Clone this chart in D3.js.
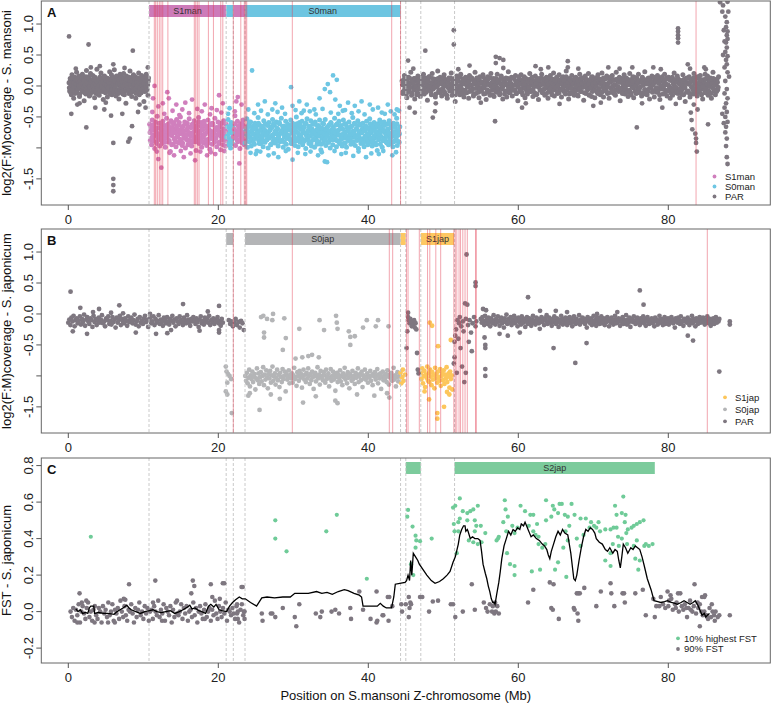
<!DOCTYPE html>
<html><head><meta charset="utf-8">
<script src="https://cdn.jsdelivr.net/npm/d3@7"></script>
<style>body{margin:0;background:#fff}svg{display:block;font-family:"Liberation Sans",Arial,Helvetica,sans-serif}</style>
</head><body><svg id="c" width="771" height="705"></svg>
<script>
// ---------------- DATA ----------------
const xTicks=[0,20,40,60,80];
const covTicks=[-1.5,-1.0,-0.5,0,0.5,1.0];
const covTickLabels=["-1.5","","-0.5","0.0","0.5","1.0"];
const fstTicks=[-0.2,0,0.2,0.4,0.6,0.8];
const fstTickLabels=["-0.2","0.0","0.2","0.4","0.6","0.8"];

// stratum boundaries (Mb)
const boundaries=[10.76,21.05,22.0,23.56,44.3,45.0,47.0,51.5];
const redLinesA=[11.47,11.65,11.87,12.13,12.36,12.59,13.28,16.8,16.99,17.2,17.43,18.68,19.35,20.33,20.6,22.0,23.0,23.47,23.65,23.79,29.87,43.12,44.3,83.7];
const redLinesB=[22.0,29.87,42.8,43.25,45.1,45.3,46.8,47.9,48.2,49.0,49.65,51.4,51.6,51.8,52.1,52.3,52.6,52.9,53.2,54.3,54.4,85.2];

const barsA=[[10.76,21.05,"S1man",1],[21.05,22.0,"S0man",0],[22.0,23.56,"S1man",0],[23.56,44.3,"S0man",1]];
const barsB=[[21.05,22.0,"S0jap",0],[23.56,44.3,"S0jap",1],[44.3,45.0,"S1jap",0],[47.0,51.45,"S1jap",1]];
const barsC=[[45.0,47.0,"S2jap",0],[51.5,78.2,"S2jap",1]];
const s1manRegions=[[10.76,21.05],[22.0,23.56]];

// Panel A: log2(F:M) coverage, S. mansoni (values in 1/100 log2 units, evenly spaced windows)
const aParLeftRange=[0.1,10.7];
const aParLeftY=[5,-8,12,2,-14,18,-3,9,-20,6,14,-6,1,22,-11,4,-2,16,-17,8,
11,-5,0,19,-9,3,-24,13,7,-13,25,-1,10,-7,15,-16,2,20,-4,6,
-10,17,-2,8,-19,12,4,-12,27,-6,9,1,-15,14,-3,21,-8,5,11,-22,
3,16,-9,7,-1,13,-18,10,2,-5,23,-11,6,18,-14,0,12,-7,26,-3,
9,-16,4,15,-6,11,-21,1,19,-10,7,14,-2,-13,20,5,-8,10,-28,16,
-4,8,13,-12,2,24,-7,11,-17,6,3,18,-9,-1,15,-20,9,4,-6,12,
21,-14,7,0,-11,17,5,-3,10,-25,14,2,-8,19,-5,8,-15,13];
const aParLeftRange2=[0.14,10.66];
const aParLeftY2=[-3,7,-10,12,1,-6,14,-1,5,-12,9,3,-8,11,-4,6,0,-13,8,2,
13,-7,4,-2,10,-11,1,15,-5,7,-9,3,12,-1,-14,6,9,-3,0,11,
-6,4,14,-10,2,8,-4,-12,10,1,-7,13,5,-2,-9,7,15,-5,3,-11,
9,0,-8,12,-3,6,-13,4,11,-1,-6,14,2,-10,8,-4,1,16,-7,5,
-12,10,3,-5,13,-2,7,-9,0,12,-14,4,9,-6,1,11,-3,-8,14,6,
2,-10,8,-1,15,-7,3,10,-4,-12,6,0,13,-8,5,-3,11,-11,7,1,
-5,12,4,-9,9,-2,14,-6,2,8];
const aMidRange=[10.85,44.2];
const aMidY=[-62,-88,-71,-95,-55,-79,-83,-66,-101,-58,-74,-90,-49,-77,-85,-68,-97,-60,-81,-72,
-93,-57,-76,-86,-64,-99,-70,-52,-84,-78,-61,-91,-73,-106,-56,-80,-67,-94,-75,-59,
-87,-69,-98,-54,-82,-74,-63,-92,-77,-50,-89,-71,-96,-65,-79,-84,-58,-100,-72,-86,
-60,-95,-78,-53,-88,-67,-81,-97,-62,-75,-90,-56,-83,-70,-104,-64,-87,-76,-51,-93,
-73,-85,-59,-99,-68,-80,-92,-57,-77,-89,-65,-96,-74,-55,-86,-71,-102,-61,-82,-79,
-94,-63,-76,-88,-52,-84,-69,-98,-72,-58,-91,-78,-66,-103,-60,-87,-74,-95,-56,-81,
-70,-97,-62,-83,-77,-54,-90,-67,-85,-100,-59,-75,-93,-64,-80,-71,-48,-96,-73,-86,
-57,-89,-79,-68,-101,-61,-84,-74,-92,-55,-78,-95,-66,-87,-70,-53,-99,-76,-63,-90,
-82,-58,-97,-72,-86,-65,-77,-94,-60,-83,-69,-105,-75,-51,-88,-80,-64,-93,-71,-85,
-67,-98,-56,-79,-91,-73,-62,-87,-76,-100,-59,-84,-70,-95,-66,-81,-54,-89,-78,-63,
-92,-74,-58,-86,-69,-97,-80,-61,-90,-75,-52,-88,-72,-99,-65,-83,-77,-57,-94,-68,
-79,-102,-63,-85,-71,-55,-93,-76,-60,-89,-82,-67,-96,-73,-50,-87,-64,-98,-78,-59,
-91,-70,-84,-57,-95,-75,-66,-88,-61,-101,-79,-53,-86,-72,-93,-68,-80,-56,-97,-74,
-62,-87,-77,-99,-58,-83,-71,-94,-65,-81,-90,-55,-76,-103,-69,-85,-60,-92,-73,-88,
-54,-96,-68,-80,-74,-91,-63,-85,-100,-59,-78,-70,-95,-66,-87,-52,-82,-75,-98,-61,
-89,-72,-57,-93,-79,-64,-86,-97,-70,-55,-84,-76,-92,-61,-99,-73,-67,-88,-58,-81,
-77,-94,-65,-83,-51,-90,-74,-62,-96,-80,-69,-87,-56,-101,-75,-84,-63,-93,-71,-86,
-60,-85,-98,-72,-66,-89,-57,-79,-95,-68,-82,-53,-91,-76,-64,-97,-70,-86,-59,-83,
-92,-67,-78,-104,-61,-87,-73,-55,-94,-81,-65,-99,-71,-88,-58,-84,-76,-90,-62,-80,
-70,-95,-56,-85,-77,-93,-64,-81,-98,-60,-74,-89,-67,-83,-52,-96,-72,-79,-91,-66];
const aMidRange2=[10.9,44.15];
const aMidY2=[-75,-66,-84,-71,-89,-62,-79,-73,-93,-68,-81,-60,-77,-87,-70,-64,-83,-76,-91,-69,
-80,-63,-74,-88,-67,-78,-95,-72,-61,-85,-76,-90,-65,-82,-71,-59,-86,-74,-68,-92,
-73,-84,-62,-79,-70,-88,-66,-75,-94,-81,-67,-77,-63,-86,-72,-90,-69,-80,-58,-83,
-76,-65,-89,-71,-82,-61,-78,-87,-68,-74,-92,-64,-80,-73,-85,-60,-77,-91,-70,-84,
-67,-79,-72,-93,-63,-81,-75,-86,-69,-60,-88,-74,-83,-66,-78,-95,-71,-64,-87,-76,
-82,-70,-61,-84,-77,-90,-65,-73,-89,-68,-80,-62,-86,-75,-92,-71,-79,-67,-83,-58,
-74,-88,-66,-78,-91,-69,-85,-63,-76,-81,-60,-93,-72,-84,-65,-77,-89,-70,-62,-80,
-87,-64,-75,-82,-71,-94,-67,-79,-61,-86,-73,-90,-68,-78,-83,-59,-76,-88,-72,-65,
-78,-91,-69,-74,-85,-62,-80,-66,-87,-71,-93,-64,-77,-82,-70,-89,-61,-75,-84,-68,
-63,-79,-86,-72,-90,-67,-76,-60,-83,-74,-88,-65,-81,-92,-69,-78,-73,-85,-62,-77,
-89,-71,-64,-80,-75,-94,-68,-83,-61,-77,-86,-70,-79,-66,-91,-73,-84,-60,-87,-74,
-70,-82,-76,-63,-88,-72,-79,-90,-65,-84,-69,-78,-93,-62,-75,-81,-67,-86,-71,-80,
-85,-66,-91,-73,-77,-60,-83,-70,-88,-64,-79,-74,-62,-89,-76,-68,-92,-72,-81,-65,
-78,-87,-69,-75,-61,-84,-71,-90,-66,-80,-73,-95,-63,-82,-77,-86,-67,-74,-59,-88,
-72,-64,-85,-79,-92,-70,-76,-62,-87,-68,-81,-74,-90,-65,-78,-83,-61,-89,-73,-77];
const aParRightRange=[44.5,86.7];
const aParRightY=[8,-12,3,17,-6,11,-19,1,14,-9,5,22,-15,7,-3,12,-21,9,0,-11,
16,-4,6,-17,10,2,-8,19,-13,4,13,-2,-23,8,15,-7,1,-14,20,-5,
3,11,-18,7,-1,24,-10,5,14,-6,-16,9,2,18,-12,0,10,-20,6,13,
-8,1,21,-15,7,-3,12,-25,4,16,-9,8,-1,-14,19,3,-6,11,-18,5,
14,-11,0,9,-20,17,2,-7,13,-4,-16,6,22,-12,4,10,-2,-19,15,-8,
7,-3,18,-13,1,11,-22,5,15,-9,3,-15,20,0,-6,12,-17,8,2,-10,
19,-5,9,-14,4,16,-1,-21,10,6,-8,13,-18,2,23,-11,7,-3,14,-16,
1,12,-7,17,-12,5,-24,9,3,-5,18,-10,8,-2,15,-19,4,11,-13,6,
-4,20,-9,2,13,-17,7,-1,16,-14,10,0,-22,6,12,-6,19,-11,3,9,
-15,5,14,-3,-20,8,1,17,-10,11,-7,21,-16,4,-2,13,-12,7,18,-5,
10,-18,3,15,-8,6,-13,24,-1,9,-21,12,2,-11,17,-4,5,-15,8,14,
-6,11,-16,0,19,-9,7,-2,13,-23,4,16,-12,10,-5,20,-14,1,6,-17,
15,-3,8,-19,12,2,-10,18,-7,5,-14,9,21,-1,-18,11,3,-8,16,-12,
4,-20,13,7,-4,17,-11,1,10,-15,22,-6,8,-2,14,-24,6,12,-9,0,
18,-13,5,-7,11,-17,3,20,-10,9,-1,15,-19,7,2,-12,13,-5,19,-8,
-2,9,-16,14,1,-11,23,-6,7,-14,12,4,-21,10,-3,16,-9,5,-18,11,
6,-10,17,-4,13,-22,8,0,15,-13,3,19,-7,11,-16,2,14,-1,-20,9,
12,-15,4,21,-8,6,-3,16,-12,10,-19,7,1,-6,18,-14,9,-25,5,13,
-9,3,15,-18,8,-2,11,-13,20,4,-7,14,-16,0,12,-10,17,-5,6,-21,
10,-4,19,-11,2,16,-15,7,-1,13,-20,5,22,-8,9,-14,3,11,-6,15];
const aParRightRange2=[44.55,86.65];
const aParRightY2=[2,-9,11,-4,6,-13,8,0,-7,13,-2,5,-11,9,3,-6,12,-1,-14,7,
-5,10,1,-12,4,14,-8,6,-3,11,-10,2,8,-6,15,-1,-9,5,12,-4,
9,-2,-13,7,0,12,-7,3,-11,10,5,-4,14,-9,1,8,-15,6,-3,11,
-1,13,-6,4,-10,9,2,-14,7,-5,11,0,-8,15,-3,6,-12,10,3,-7,
12,-11,5,-2,8,-9,14,1,-6,10,-13,3,7,-4,13,-1,-10,9,-5,4,
-8,6,15,-3,1,-12,9,-6,11,2,-9,13,-1,5,-14,8,0,-7,12,-2,
7,-4,10,-11,3,14,-5,-1,9,-13,6,2,-8,12,-3,11,-10,4,0,-6,
13,-7,1,8,-12,5,-2,15,-9,3,-5,10,-14,7,1,-4,12,-8,9,-1,
-3,11,-9,6,14,-6,0,-11,8,4,-13,12,-2,9,-7,2,13,-10,5,-5,
10,-1,-12,7,3,-8,13,-4,6,-14,11,0,-6,9,-2,14,-9,1,-11,8,
-6,4,12,-3,9,-10,2,15,-7,5,-1,-13,10,-4,7,-12,3,11,-8,0,
6,-14,8,1,-5,12,-9,4,13,-2,-11,7,0,10,-6,3,-15,9,-3,14,
-9,2,10,-7,5,-1,14,-12,8,-4,11,3,-10,6,13,-5,1,-8,12,-2,
4,-11,7,-3,15,-8,0,9,-13,2,-6,11,-1,-9,6,12,-4,8,-12,3,
11,-5,-1,13,-10,6,2,-7,10,-14,4,8,-3,14,-9,0,7,-11,5,-4,
-2,9,-12,5,1,11,-6,-13,7,3,-9,13,-4,10,-1,6,-10,2,14,-7,
8,-3,12,-9,4,-14,9,0,-5,11,-1,6,-12,3,13,-8,1,-6,10,-11,
-4,14,-7,2,10,-2,-11,6,12,-9,3,-5,9,-13,7,0,11,-3,4,-10,
12,-8,3,-12,6,9,-1,-6,13,-4,8,-10,1,15,-7,5,-2,10,-14,2,
-1,7,-10,11,-5,3,14,-8,0,9,-12,4,-3,12,-6,1,10,-9,6,-2];
// scattered windows [Mb, log2 ratio]
const aParOut=[[0.1,0.8],[2.7,0.67],[8.6,0.57],[6.0,0.35],[0.4,-0.45],[2.4,-0.67],[6.0,-0.92],[6.0,-1.5],[6.0,-1.6],[6.0,-1.7],[8.0,-0.9],[8.2,-0.85],[8.5,-0.65],[4.8,-0.38],[5.7,-0.48],[3.6,-0.35],[9.3,-0.42],[1.2,-0.3],[7.2,-0.45],[10.3,-0.35],[4.2,0.32],[1.0,0.28],[10.6,0.3],[1.5,-0.28],[3.0,0.3],[5.0,-0.27],[7.5,0.29],[9.5,-0.3],
[51.4,0.9],[51.4,0.67],[47.6,0.57],[45.3,0.41],[57.0,0.47],[57.5,0.45],[57.0,0.37],[58.0,0.42],[66.6,0.4],[66.6,0.3],[75.2,0.3],[81.3,0.93],[81.3,0.88],[81.3,0.82],[81.3,0.77],[81.3,0.7],[48.6,-0.51],[48.9,-0.41],[56.9,-0.57],[75.8,-0.67],[85.3,-0.62],[45.5,-0.35],[46.2,-0.43],[83.0,-0.43],[83.1,-0.55],[83.2,-0.7],[83.6,-0.77],[83.7,-0.85],[83.7,-0.92],[83.8,-1.06],[83.4,-0.3],[83.9,-0.38],[82.6,0.35],[82.9,0.28],[60.5,-0.35],[70,-0.32],[64,0.3],[53.5,0.33],[62.3,0.32],[72,0.3],[78,0.3],[79.2,-0.35],[84.8,0.3],
[46,0.28],[49,-0.28],[52,0.27],[55,-0.27],[58,0.29],[61,-0.28],[63,0.27],[65.5,-0.29],[68,0.28],[71,-0.27],[73.5,0.28],[76.5,-0.28],[79,0.27],[81,-0.29],[85,0.27],
[86.9,1.35],[87.3,1.3],[87.9,1.36],[87.2,1.2],[87.6,1.12],[87.8,1.03],[87.7,0.95],[87.9,0.88],[87.8,0.82],[87.9,0.76],[87.7,0.7],[87.8,0.62],[87.6,0.55],[87.9,0.48],[87.7,0.42],[87.8,0.35],[87.5,0.3],[87.9,0.22],[88.1,0.15],[87.6,0.08],[87.8,-0.05],[87.5,-0.12],[87.9,-0.2],[87.7,-0.28],[87.5,-0.35],[87.8,-0.42],[87.6,-0.5],[87.9,-0.58],[87.7,-0.66],[87.6,-0.75],[87.8,-0.85],[87.7,-0.97],[87.8,-1.15],[87.9,-1.26],[87.4,0.9],[87.3,0.5],[87.2,-0.45],[87.4,-0.6],[88.0,1.2],[87.5,0.72]];
const aMidOut=[[11.5,0.0],[11.3,-0.2],[12.0,-0.33],[12.6,-0.28],[13.2,-0.1],[13.4,-0.2],[14.4,-0.3],[15.6,-0.27],[16.5,-0.22],[17.2,-0.37],[18.2,-0.3],[19.1,-0.36],[20.1,-0.15],[20.6,-0.28],[21.5,-0.36],[22.4,-0.25],[22.6,-0.18],[23.1,-0.3],[24.5,0.25],[25.3,-0.3],[26.2,-0.25],[27.6,-0.28],[28.5,-0.35],[29.7,-0.02],[29.9,-0.32],[30.8,-0.25],[31.8,-0.3],[32.8,-0.38],[33.5,-0.2],[34.2,-0.05],[34.6,0.03],[34.9,-0.1],[35.3,0.17],[35.6,-0.22],[36.2,-0.32],[37.3,-0.27],[38.2,-0.32],[39.1,-0.25],[40.2,-0.3],[41.3,-0.35],[42.6,-0.3],[43.8,-0.38],[35.8,0.1],[36.6,-0.4],[31.4,-0.4],[27.2,-0.38],[24.0,-0.38],[44.1,-0.4],
[11.2,-0.42],[12.8,-0.45],[13.9,-0.4],[14.8,-0.47],[15.2,-0.38],[16.1,-0.44],[17.8,-0.41],[18.9,-0.46],[19.8,-0.39],[20.4,-0.43],[21.3,-0.45],[22.2,-0.41],[24.8,-0.44],[25.7,-0.4],[26.6,-0.46],[27.9,-0.42],[28.9,-0.45],[30.3,-0.39],[31.1,-0.44],[32.2,-0.41],[33.0,-0.46],[33.9,-0.37],[35.0,-0.43],[36.0,-0.45],[36.9,-0.39],[37.8,-0.44],[38.7,-0.41],[39.5,-0.46],[40.6,-0.38],[41.8,-0.43],[42.2,-0.45],[43.0,-0.41],[43.5,-0.46],
[12.0,-1.18],[12.4,-1.32],[14.1,-1.12],[15.4,-1.15],[16.9,-1.2],[18.5,-1.12],[19.6,-1.1],[22.8,-1.25],[25.0,-1.1],[26.7,-1.12],[28.0,-1.15],[29.9,-1.19],[31.6,-1.1],[33.3,-1.12],[34.2,-1.22],[34.5,-1.23],[36.4,-1.1],[38.0,-1.13],[39.7,-1.15],[41.4,-1.1],[43.2,-1.12],
[11.8,-1.06],[13.5,-1.08],[15.0,-1.05],[16.3,-1.09],[17.6,-1.06],[19.0,-1.07],[20.8,-1.05],[24.3,-1.08],[25.6,-1.06],[27.4,-1.09],[29.0,-1.05],[30.6,-1.08],[32.3,-1.06],[33.8,-1.07],[35.5,-1.05],[37.0,-1.08],[38.7,-1.06],[40.4,-1.09],[42.0,-1.05],[43.7,-1.07]];

// Panel B: log2(F:M) coverage, S. japonicum
const bParLeftRange=[0.0,20.6];
const bParLeftY=[-14,-9,-18,-6,-12,-3,-20,-10,-7,-15,-11,-4,-17,-8,-13,-1,-19,-9,-5,-12,
-16,-7,-10,-21,-3,-13,-8,-18,-11,-6,-14,-9,-2,-15,-12,-20,-7,-10,-4,-16,
-11,-17,-5,-13,-9,-22,-6,-14,-10,-3,-18,-8,-12,-15,-7,-11,-19,-4,-13,-9,
-6,-15,-10,-1,-17,-12,-8,-20,-5,-14,-11,-16,-7,-3,-13,-9,-21,-10,-6,-15,
-12,-4,-18,-8,-14,-11,-2,-16,-9,-13,-19,-6,-10,-15,-5,-12,-17,-8,-11,-3,
-14,-9,-20,-7,-12,-16,-4,-10,-13,-18,-6,-11,-15,-2,-9,-14,-19,-8,-12,-5,
-10,-16,-7,-13,-21,-9,-4,-15,-11,-17,-6,-12,-8,-14,-3,-18,-10,-13,-7,-16,
-9,-12,-5,-15,-11,-19,-8,-14];
const bParMidRange=[21.4,23.4];
const bParMidY=[-10,-16,-12,-20,-14,-8,-18,-13,-22,-11,-15,-26];
const bS0Range=[23.6,44.2];
const bS0Y=[-100,-108,-95,-112,-103,-90,-117,-99,-105,-93,-110,-101,-97,-122,-104,-88,-107,-96,-113,-102,
-94,-109,-100,-86,-115,-98,-106,-91,-103,-120,-97,-104,-92,-111,-99,-85,-108,-101,-96,-114,
-103,-90,-107,-98,-118,-95,-102,-110,-89,-105,-100,-93,-125,-97,-106,-101,-91,-112,-98,-104,
-96,-111,-99,-87,-105,-102,-116,-94,-100,-108,-92,-103,-97,-119,-101,-90,-106,-98,-110,-95,
-104,-88,-100,-113,-97,-107,-93,-102,-121,-99,-95,-109,-101,-86,-104,-98,-114,-92,-103,-100,
-107,-94,-99,-111,-90,-105,-101,-96,-117,-103,-89,-108,-100,-93,-106,-98,-124,-102,-95,-110,
-98,-104,-91,-109,-100,-115,-96,-102,-87,-106,-99,-112,-94,-103,-120,-97,-101,-108,-92,-105,
-100,-113,-95,-103,-98,-88,-110,-101,-97,-107,-93,-118,-99,-104,-90,-106,-102,-96,-111,-100,
-103,-92,-108,-99,-115,-97,-101,-94,-106,-100,-89,-112,-98,-104,-96,-121,-102,-93,-107,-99,
-105,-97,-110,-91,-101,-114,-98,-103,-95,-108,-100,-87,-106,-99,-117,-102,-94,-109,-101,-97];
const bS0Out=[[21.0,-0.85],[21.1,-0.93],[21.3,-0.97],[21.0,-1.25],[21.2,-1.11],[21.8,-1.6],[21.5,-1.0],[21.7,-1.05],[21.2,-1.3],
[25.7,-0.05],[26.0,-0.03],[26.5,-0.08],[26.1,-0.3],[26.1,-0.38],[27.2,-0.1],[27.3,0.0],[28.6,-0.58],[28.8,-0.07],[29.0,-0.39],[30.8,-0.24],[33.5,-0.1],[34.1,-0.26],[35.7,-0.03],[35.8,-0.14],[35.9,-0.24],[37.6,-0.5],[37.6,-0.37],[37.4,-0.28],[38.2,-0.36],[39.3,-0.22],[39.8,-0.1],[41.3,-0.1],[41.0,-0.2],[42.7,-0.2],
[25.5,-1.55],[28.2,-1.37],[31.3,-1.43],[35.6,-1.4],[35.9,-1.44],[24.2,-1.28],[24.0,-1.32],[27.0,-1.3],[33.0,-1.33],[38.5,-1.3],[40.8,-1.32],[42.5,-1.28],[30.3,-0.72],[31.2,-0.7],[32.0,-0.68],[32.5,-0.66],[33.4,-0.7],[42.8,-1.35]];
const bS1Range=[47.0,51.2];
const bS1Y=[-95,-105,-88,-112,-100,-92,-118,-98,-103,-85,-108,-96,-110,-90,-101,-115,-94,-106,-99,-120,-87,-104,-97,-111,-93,-102,-108,-89,-116,-100,-95,-107,-91,-113,-98,-104,-86,-110,-101,-96,-119,-93,-105,-99,-122];
const bS1Out=[[44.3,-0.95],[44.5,-1.02],[44.7,-1.08],[44.9,-0.98],[44.4,-1.12],[44.6,-0.9],[48.2,-0.14],[48.5,-0.19],[49.3,-0.52],[51.0,-0.42],[48.1,-1.38],[49.2,-1.6],[49.2,-1.69],[50.1,-1.5],[50.8,-1.3],[50.5,-1.26],[47.5,-1.25]];
const bParRightRange=[55.0,86.8];
const bParRightY=[-8,-14,-5,-11,-18,-3,-12,-9,-16,-6,-13,-20,-7,-10,-15,-2,-11,-17,-8,-13,
-4,-12,-19,-9,-6,-15,-10,-22,-7,-13,-1,-16,-11,-8,-14,-5,-18,-9,-12,-3,
-15,-7,-11,-20,-6,-13,-9,-17,-4,-10,-14,-8,-21,-12,-5,-16,-10,-7,-13,-19,
-9,-3,-14,-11,-17,-6,-12,-8,-15,-24,-10,-5,-13,-9,-18,-7,-11,-2,-16,-12,
-6,-14,-10,-19,-8,-13,-4,-11,-16,-7,-12,-21,-9,-15,-3,-10,-17,-8,-13,-6,
-11,-18,-7,-12,-5,-15,-9,-20,-13,-4,-10,-16,-8,-14,-11,-2,-17,-9,-12,-6,
-13,-8,-16,-10,-22,-5,-12,-9,-15,-7,-18,-11,-3,-14,-10,-19,-6,-13,-8,-16,
-10,-4,-15,-12,-7,-18,-9,-13,-5,-11,-20,-8,-14,-6,-12,-17,-10,-3,-15,-9,
-14,-7,-11,-19,-8,-13,-5,-16,-10,-12,-2,-17,-9,-14,-6,-21,-11,-8,-13,-4,
-12,-16,-9,-6,-14,-11,-18,-7,-13,-10,-4,-15,-8,-19,-12,-5,-11,-16,-9,-13,
-7,-15,-10,-20,-6,-12,-9,-17,-11,-3,-14,-8,-13,-18,-10,-5,-16,-9,-12,-7,
-17,-8,-13,-5,-11,-15,-9,-22,-7,-12,-14,-6,-10,-16,-4,-13,-11,-19,-8,-12,
-9,-14,-6,-11,-18,-10,-13,-3,-15,-8,-12,-20,-7,-11,-16,-9,-5,-14,-10,-13,
-6,-12,-17,-9,-14,-4,-11,-15,-8,-19,-10,-13,-7,-16,-11,-5,-14,-9,-12,-8];
const bParOut=[[0.3,0.36],[1.6,0.1],[4.1,0.08],[6.8,0.14],[15.3,0.16],[20.1,0.13],[0.6,-0.28],[2.5,-0.32],[9.0,-0.3],[11.7,-0.32],[13.2,-0.31],[13.7,-0.26],[20.1,-0.3],[20.1,-0.26],[3.3,0.03],[5.7,0.02],[7.3,0.01],[10.9,0.0],[17.5,-0.27],[18.6,0.04],
[45.1,-0.55],[45.3,0.02],[45.3,-0.05],[45.4,-0.1],[45.5,-0.15],[45.6,-0.08],[45.7,-0.12],[45.8,-0.2],[45.9,-0.13],[46.0,-0.18],[46.1,-0.1],[46.2,-0.22],[46.3,-0.15],[46.5,-0.63],[46.7,-0.96],[46.4,-0.25],[45.2,-0.28],[46.6,-0.9],
[53.1,0.96],[54.3,0.51],[54.3,0.45],[52.9,0.17],[53.2,0.15],[51.4,-0.8],[52.8,-1.1],[53.0,-0.95],[51.5,-0.45],[51.6,-0.35],[51.5,-0.7],[51.7,-0.25],[51.9,-0.1],[52.1,-0.15],[52.2,-0.05],[52.4,-0.2],[52.6,-0.12],[52.7,-0.28],[53.0,-0.08],[53.3,-0.18],[53.5,-0.1],[53.7,-0.3],[53.9,-0.15],[54.1,-0.05],[54.3,-0.2],[54.4,-0.12],[52.0,-0.4],[52.3,-0.55],[53.4,-0.45],[53.8,-0.6],[51.8,-0.95],[52.5,-0.85],
[55.3,0.08],[55.7,0.06],[55.6,-0.5],[55.6,-0.55],[55.6,-0.89],[55.6,-1.0],[55.5,-0.38],[61.3,0.27],[76.2,0.38],[76.7,0.15],[64.7,-0.55],[67.6,-0.79],[69.1,-0.47],[82.6,-0.35],[83.3,-0.43],[86.8,-0.93],[88.2,-0.12],[88.2,-0.17],[58.6,-0.35],[62.9,0.05],[65.0,0.05],[66.5,0.03],[70.5,0.0],[73.2,0.03],[57.5,-0.32],[60.2,-0.3]];

// Panel C: FST S. japonicum
const cLowRange=[0.3,23.5];
const cLowY=[0,-3,2,-5,1,-2,4,-6,0,3,-1,-4,2,5,-3,0,-5,1,3,-2,
-4,2,0,-6,3,-1,1,-3,5,-2,0,4,-5,1,-1,2,-4,6,0,-3,
3,-2,-5,1,0,4,-1,-6,2,-3,1,5,-2,0,-4,3,-1,2,-5,0,
1,-4,3,0,-2,6,-3,1,-1,4,-5,2,0,-2,3,-6,1,-3,5,-1,
-2,0,4,-4,2,-1,3,-5,0,1,-3,5,-2,2,-6,0,3,-1,-4,1,
4,-3,0,2,-5,1,-2,6,-1,-4,3,0,-3,2,-1,5,-5,1,0,-2,
2,-1,-4,3,0,-6,1,4,-2,0];
const cLowOut=[[1.5,0.1],[1.8,0.05],[2.4,0.06],[8.1,0.15],[11.6,0.17],[16.6,0.17],[16.4,0.1],[16.8,0.14],[19.0,0.15],[20.6,0.155],[20.8,0.155],[23.1,0.135],[23.25,0.135],[7.4,0.07],[7.6,0.065],[11.3,0.05],[14.5,0.06],[19.2,0.08],[20.2,0.07],[1.2,-0.06],[3.5,-0.06],[5.3,-0.06],[6.2,-0.06],[12.5,-0.05],[18.2,-0.04],[22.5,0.04],[22.5,-0.01],[22.6,-0.04],[23.4,0.0],[23.5,-0.04],
[25.8,-0.01],[25.9,-0.05],[27.0,-0.01],[27.2,-0.01],[27.6,-0.03],[28.6,0.02],[30.2,-0.03],[30.4,-0.08],[30.8,0.04],[33.0,-0.01],[33.6,-0.03],[33.8,0.0],[35.1,0.0],[35.6,0.01],[36.1,-0.01],[37.6,0.02],[37.7,-0.04],[38.8,0.11],[39.3,0.01],[40.3,-0.04],[41.1,-0.06],[41.2,-0.05],[41.1,0.11],[41.9,-0.02],[42.0,-0.02],[42.7,-0.05],[42.6,0.08],[42.8,0.08],[43.2,0.03],[44.4,0.04],[44.5,0.0],[45.0,0.04],[45.4,0.08],[45.6,0.05],[45.5,0.02],[45.7,0.04],[45.4,-0.03],[46.9,0.08],[47.2,0.08],[48.1,0.0],[48.6,0.055],[49.3,0.06],[51.0,0.04],[51.3,0.04],[51.6,-0.03],[52.6,0.0],[53.8,0.15],[54.2,0.01],[55.4,0.05],[55.7,0.02],[55.9,0.0],[56.2,0.04],[56.6,0.03],[56.8,-0.01],[57.0,0.0],[57.2,0.03],[57.4,-0.01],[56.5,0.0],[56.9,0.05],[61.3,0.05],[62.0,0.12],[64.2,0.16],[64.7,0.15],[64.4,0.02],[64.6,0.01],[65.4,-0.04],[67.4,0.02],[67.5,0.01],[67.8,0.1],[68.0,0.1],[68.2,0.1],[67.9,-0.01],[68.0,-0.05],[68.8,0.13],[70.4,0.03],[71.0,0.11],[72.3,0.155],[72.4,0.1],[72.8,0.03],[73.9,0.1],[74.1,0.1],[74.2,0.05],[75.6,0.1],[76.6,0.12],[77.0,-0.02],[78.2,-0.03],[78.4,0.03],[78.8,0.03],[79.9,0.11],[80.1,0.06],[80.4,0.07],[81.3,0.1],[81.6,0.1],[82.7,0.02],[83.0,0.01],[83.5,0.15],[83.9,0.05],[84.2,0.04],[82.5,-0.03],[84.2,-0.08],[84.8,0.0],[85.0,-0.02],[85.1,-0.02],[85.2,-0.03],[85.5,0.02],[84.9,0.09],[84.8,0.08],[88.2,-0.02],
[79.3,0.04],[79.6,0.02],[80.0,0.03],[80.6,0.01],[80.9,0.04],[81.0,0.02],[81.4,0.0],[81.8,0.03],[82.0,0.01],[82.2,0.04],[82.4,0.02],[83.2,0.0],[83.4,0.03],[83.7,-0.01],[84.0,0.02],[84.4,0.0],[84.6,-0.02],[85.3,-0.04],[85.7,-0.03],[85.9,0.0],[86.1,-0.02],[86.3,0.0],[86.6,-0.03],[86.2,-0.05],[78.0,0.07],[79.0,0.08],[80.3,0.09],[81.1,0.05],[82.9,0.06],[84.5,0.08],[85.8,0.04],[86.8,-0.02]];
const cHigh=[[3.0,0.41],[27.6,0.5],[27.6,0.4],[29.1,0.33],[34.4,0.44],[35.8,0.53],[39.8,0.18],
[45.3,0.557],[45.2,0.52],[45.9,0.466],[46.3,0.416],[46.4,0.39],[46.3,0.35],[46.9,0.386],[48.45,0.4],[45.7,0.26],[46.0,0.2],
[51.3,0.57],[51.6,0.58],[52.2,0.62],[51.4,0.48],[51.5,0.44],[52.2,0.51],[52.0,0.49],[52.6,0.55],[53.2,0.54],[53.2,0.5],[52.0,0.44],[51.8,0.32],[53.6,0.55],[54.0,0.56],[54.6,0.58],[54.2,0.5],[54.4,0.47],[54.2,0.44],[53.4,0.39],[54.0,0.38],[54.6,0.37],[55.1,0.38],[55.6,0.43],[55.0,0.47],
[57.1,0.39],[57.3,0.4],[57.4,0.41],[58.2,0.61],[58.3,0.56],[58.6,0.52],[58.0,0.49],[58.4,0.44],[58.5,0.32],[58.9,0.26],[59.5,0.25],[59.5,0.2],[59.2,0.47],[59.5,0.43],[59.9,0.46],
[60.3,0.58],[60.9,0.55],[61.6,0.53],[62.0,0.53],[61.4,0.47],[62.0,0.44],[62.5,0.48],[62.7,0.41],[61.8,0.22],[62.9,0.23],
[63.7,0.61],[64.6,0.58],[64.8,0.56],[65.3,0.54],[65.5,0.59],[65.8,0.59],[67.1,0.59],[66.2,0.53],[66.6,0.52],[67.5,0.53],[64.4,0.52],[63.7,0.5],[62.7,0.37],[63.6,0.37],[63.2,0.35],[62.3,0.42],[65.3,0.27],[64.9,0.23],[66.4,0.19],[66.0,0.35],[66.6,0.39],[66.3,0.44],[66.8,0.47],
[68.3,0.51],[69.0,0.51],[69.7,0.49],[69.5,0.46],[70.1,0.47],[70.4,0.46],[67.8,0.4],[68.3,0.36],[68.7,0.42],
[70.7,0.49],[70.9,0.44],[71.6,0.45],[72.3,0.45],[72.7,0.46],[72.9,0.58],[73.1,0.53],[73.8,0.54],[74.0,0.63],[74.2,0.49],[74.3,0.53],
[73.1,0.46],[73.3,0.41],[74.4,0.43],[74.6,0.45],[75.1,0.46],[75.4,0.47],[75.8,0.48],[76.2,0.49],[76.7,0.5],
[72.6,0.37],[73.4,0.36],[73.8,0.4],[74.5,0.37],[75.4,0.36],[75.8,0.39],[76.2,0.28],[75.6,0.29],[76.0,0.23],[76.8,0.36],[77.0,0.37],[77.4,0.36],[77.9,0.37],[71.6,0.28],[72.3,0.25],[72.3,0.32]];
const cMean=[[1.0,0.015],[1.3,0.0],[1.6,0.01],[1.9,-0.01],[2.3,-0.005],[2.6,-0.01],[2.8,0.02],[3.0,0.03],[3.4,0.03],[3.5,-0.01],[4.0,-0.005],[4.7,-0.01],[5.3,-0.01],[6.1,-0.015],[6.5,0.0],[6.9,0.01],[7.3,0.02],[7.8,0.035],[8.1,0.02],[8.4,0.01],[9.0,0.0],[9.6,-0.01],[10.2,0.0],[10.8,0.005],[11.3,0.01],[11.8,0.0],[12.4,-0.005],[13.0,0.0],[13.6,0.005],[14.2,-0.01],[14.8,0.0],[15.3,0.01],[15.9,0.025],[16.2,0.035],[16.5,0.015],[16.9,0.02],[17.4,0.005],[17.8,0.0],[18.3,-0.01],[18.7,0.03],[19.0,0.04],[19.4,0.025],[19.7,0.04],[20.1,0.01],[20.5,0.005],[21.1,0.0],
[21.5,0.03],[21.9,0.05],[22.3,0.065],[22.8,0.08],[23.2,0.07],[23.6,0.07],[24.3,0.05],[25.1,0.03],[25.8,0.075],[26.5,0.08],[27.5,0.075],[28.6,0.08],[29.6,0.08],[30.2,0.1],[31.0,0.1],[32.0,0.1],[33.1,0.11],[33.8,0.1],[34.5,0.105],[35.2,0.095],[36.0,0.11],[36.8,0.12],[37.3,0.115],[38.1,0.1],[38.8,0.09],[39.1,0.08],[39.3,0.03],[40.5,0.03],[41.2,0.03],[41.6,0.045],[42.0,0.03],[42.4,0.02],[43.1,0.02],[43.4,0.08],[43.6,0.15],
[44.2,0.155],[44.9,0.16],[45.1,0.17],[45.3,0.2],[45.5,0.17],[45.65,0.28],[45.8,0.2],[46.0,0.32],[46.3,0.3],[46.6,0.28],[46.8,0.26],[47.3,0.23],[47.8,0.2],[48.4,0.17],[48.9,0.155],[49.5,0.165],[50.0,0.18],[50.5,0.2],[50.9,0.22],[51.3,0.27],
[51.6,0.3],[52.0,0.37],[52.2,0.42],[52.45,0.45],[52.7,0.47],[52.9,0.47],[53.0,0.44],[53.2,0.45],[53.3,0.44],[53.6,0.4],[53.9,0.41],[54.2,0.4],[54.6,0.4],[54.9,0.39],[55.1,0.33],[55.3,0.26],[55.6,0.21],[55.8,0.18],[56.0,0.14],[56.2,0.11],[56.4,0.07],[56.6,0.05],[56.8,0.05],[56.9,0.04],[57.1,0.09],[57.4,0.16],[57.6,0.22],[57.8,0.29],[58.1,0.36],[58.4,0.4],[58.7,0.44],[59.0,0.42],[59.3,0.45],[59.6,0.44],[59.9,0.46],[60.2,0.45],[60.4,0.48],[60.7,0.47],[60.9,0.49],[61.1,0.47],[61.3,0.45],[61.5,0.43],[61.7,0.41],[62.0,0.42],[62.4,0.4],[62.8,0.39],[63.2,0.37],[63.5,0.36],[63.8,0.34],[64.0,0.31],[64.2,0.29],[64.4,0.33],[64.7,0.37],[65.0,0.41],[65.3,0.44],[65.6,0.42],[65.9,0.45],[66.2,0.43],[66.6,0.42],[66.8,0.37],[67.0,0.32],[67.2,0.25],[67.4,0.18],[67.6,0.17],[67.8,0.2],[68.1,0.28],[68.4,0.35],[68.7,0.41],[69.0,0.45],[69.3,0.44],[69.6,0.46],[69.9,0.45],[70.2,0.43],[70.4,0.4],[70.8,0.38],[71.2,0.37],[71.6,0.34],[71.9,0.33],[72.2,0.35],[72.6,0.32],[72.9,0.34],[73.2,0.33],[73.4,0.28],[73.6,0.24],[73.8,0.3],[74.0,0.37],[74.3,0.35],[74.6,0.32],[75.0,0.35],[75.3,0.34],[75.6,0.36],[75.9,0.35],[76.2,0.34],[76.5,0.3],[76.8,0.25],[77.2,0.18],[77.7,0.12],[78.1,0.06],[78.6,0.055],[79.0,0.05],[79.5,0.055],[79.9,0.06],[80.4,0.05],[80.9,0.045],[81.2,0.04],[81.7,0.05],[82.1,0.06],[82.5,0.05],[82.9,0.04],[83.3,0.05],[83.6,0.06],[84.0,0.03],[84.2,0.01],[84.5,-0.02],[84.8,-0.01],[85.0,-0.03],[85.2,-0.02],[85.5,-0.01]];

const legendA=["S1man","S0man","PAR"];
const legendB=["S1jap","S0jap","PAR"];
const legendC=[["hi","10% highest FST"],["lo","90% FST"]];

// ---------------- STYLE ----------------
const COL={S1man:"#d07fbd",S0man:"#6ec6e3",PAR:"#7e7780",S1jap:"#fcc65b",S0jap:"#b4b5b7",hi:"#6fcb98",lo:"#7e7780"};
const BAR={S1man:"#cd7bb9",S0man:"#6dc5e1",S0jap:"#b4b5b7",S1jap:"#fdc862",S2jap:"#7ccb9c"};

const svg=d3.select("#c");
const x=d3.scaleLinear().domain([-3.6,93.6]).range([41.3,770.3]);
const L=41.3,R=770.3;

function windows(range,vals){const n=vals.length;return vals.map((v,i)=>[range[0]+i*(range[1]-range[0])/(n-1),v/100]);}

function makePanel(id,top,bottom,dom){
  const y=d3.scaleLinear().domain(dom).range([bottom,top]);
  svg.append("clipPath").attr("id","clip"+id).append("rect").attr("x",L).attr("y",top).attr("width",R-L).attr("height",bottom-top);
  const g=svg.append("g").attr("clip-path","url(#clip"+id+")");
  return {y,g,top,bottom};
}
function dots(p,data,color,r){
  p.g.append("g").selectAll("circle").data(data).join("circle")
   .attr("cx",d=>x(d[0])).attr("cy",d=>p.y(d[1])).attr("r",r)
   .attr("fill",typeof color==="function"?d=>color(d):color);
}
function bars(p,list){
  const gb=p.g.append("g");
  gb.selectAll("rect").data(list).join("rect").attr("x",d=>x(d[0])).attr("width",d=>x(d[1])-x(d[0]))
    .attr("y",p.top+4).attr("height",12).attr("fill",d=>BAR[d[2]]);
  gb.selectAll("text").data(list.filter(d=>d[3])).join("text").attr("x",d=>x((d[0]+d[1])/2)).attr("y",p.top+13.3)
    .attr("text-anchor","middle").attr("font-size",9).attr("fill","#333").text(d=>d[2]);
}
function dashed(p){
  p.g.append("g").selectAll("line").data(boundaries).join("line").attr("x1",d=>x(d)).attr("x2",d=>x(d))
   .attr("y1",p.top).attr("y2",p.bottom).attr("stroke","#c4c4c4").attr("stroke-width",0.9).attr("stroke-dasharray","3,2");
}
function red(p,list){
  p.g.append("g").selectAll("line").data(list).join("line").attr("x1",d=>x(d)).attr("x2",d=>x(d))
   .attr("y1",p.top).attr("y2",p.bottom).attr("stroke","#e23a50").attr("stroke-opacity",0.45).attr("stroke-width",1);
}
function frame(p,ticks,labels,title,letter){
  svg.append("rect").attr("x",L).attr("y",p.top).attr("width",R-L).attr("height",p.bottom-p.top)
    .attr("fill","none").attr("stroke","#666").attr("stroke-width",1);
  const ax=svg.append("g");
  ax.selectAll("line.xt").data(xTicks).join("line").attr("class","xt").attr("x1",d=>x(d)).attr("x2",d=>x(d))
    .attr("y1",p.bottom).attr("y2",p.bottom+5).attr("stroke","#555");
  ax.selectAll("text.xl").data(xTicks).join("text").attr("class","xl").attr("x",d=>x(d)).attr("y",p.bottom+19)
    .attr("text-anchor","middle").attr("font-size",13).attr("fill","#222").text(d=>d);
  ax.selectAll("line.yt").data(ticks).join("line").attr("class","yt").attr("x1",L-5).attr("x2",L)
    .attr("y1",d=>p.y(d)).attr("y2",d=>p.y(d)).attr("stroke","#555");
  ax.selectAll("text.yl").data(ticks.map((t,i)=>[t,labels[i]])).join("text").attr("class","yl")
    .attr("transform",d=>`translate(32.5,${p.y(d[0])}) rotate(-90)`).attr("text-anchor","middle")
    .attr("font-size",13).attr("fill","#222").text(d=>d[1]);
  svg.append("text").attr("transform",`translate(11,${(p.top+p.bottom)/2}) rotate(-90)`).attr("text-anchor","middle")
    .attr("font-size",13).attr("fill","#111").text(title);
  svg.append("text").attr("x",47).attr("y",p.top+15.5).attr("font-size",13).attr("font-weight","bold").attr("fill","#111").text(letter);
}
function legend(rows,mx,tx,y0,dy){
  const g=svg.append("g");
  rows.forEach((r,i)=>{
    g.append("circle").attr("cx",mx).attr("cy",y0+i*dy).attr("r",1.9).attr("fill",COL[r[0]]);
    g.append("text").attr("x",tx).attr("y",y0+i*dy+3.3).attr("font-size",9.5).attr("fill","#222").text(r[1]);
  });
}

// ---------------- PANEL A ----------------
const A=makePanel("A",1,205,[-1.922,1.372]);
const aCls=v=>s1manRegions.some(([s,e])=>v>=s&&v<e)?"S1man":"S0man";
bars(A,barsA);
dots(A,windows(aParLeftRange,aParLeftY),COL.PAR,2.5);
dots(A,windows(aParLeftRange2,aParLeftY2),COL.PAR,2.5);
dots(A,windows(aParRightRange,aParRightY),COL.PAR,2.5);
dots(A,windows(aParRightRange2,aParRightY2),COL.PAR,2.5);
dots(A,aParOut,COL.PAR,2.4);
dots(A,windows(aMidRange,aMidY),d=>COL[aCls(d[0])],2.5);
dots(A,windows(aMidRange2,aMidY2),d=>COL[aCls(d[0])],2.5);
dots(A,aMidOut,d=>COL[aCls(d[0])],2.4);
dashed(A); red(A,redLinesA);
frame(A,covTicks,covTickLabels,"log2(F:M)coverage - S. mansoni","A");
legend(legendA.map(k=>[k,k]),714.5,725,176.5,10);

// ---------------- PANEL B ----------------
const B=makePanel("B",229,433,[-1.922,1.372]);
bars(B,barsB);
dots(B,windows(bS0Range,bS0Y),COL.S0jap,2.4);
dots(B,bS0Out,COL.S0jap,2.4);
dots(B,windows(bS1Range,bS1Y),COL.S1jap,2.4);
dots(B,bS1Out,COL.S1jap,2.4);
dots(B,windows(bParLeftRange,bParLeftY),COL.PAR,2.4);
dots(B,windows(bParMidRange,bParMidY),COL.PAR,2.4);
dots(B,windows(bParRightRange,bParRightY),COL.PAR,2.4);
dots(B,bParOut,COL.PAR,2.4);
dashed(B); red(B,redLinesB);
frame(B,covTicks,covTickLabels,"log2(F:M)coverage - S. japonicum","B");
legend(legendB.map(k=>[k,k]),725,735,397.3,12);

// ---------------- PANEL C ----------------
const C=makePanel("C",458,663,[-0.2816,0.8416]);
bars(C,barsC);
dashed(C);
dots(C,windows(cLowRange,cLowY),COL.lo,2.3);
dots(C,cLowOut,COL.lo,2.3);
dots(C,cHigh,COL.hi,2.1);
C.g.append("path").datum(cMean).attr("fill","none").attr("stroke","#000").attr("stroke-width",1.3)
  .attr("d",d3.line().x(d=>x(d[0])).y(d=>C.y(d[1])));
frame(C,fstTicks,fstTickLabels,"FST - S. japonicum","C");
legend(legendC,678,684,638.3,10.7);

svg.append("text").attr("x",(L+R)/2).attr("y",700).attr("text-anchor","middle").attr("font-size",13).attr("fill","#111")
  .text("Position on S.mansoni Z-chromosome (Mb)");
</script></body></html>
